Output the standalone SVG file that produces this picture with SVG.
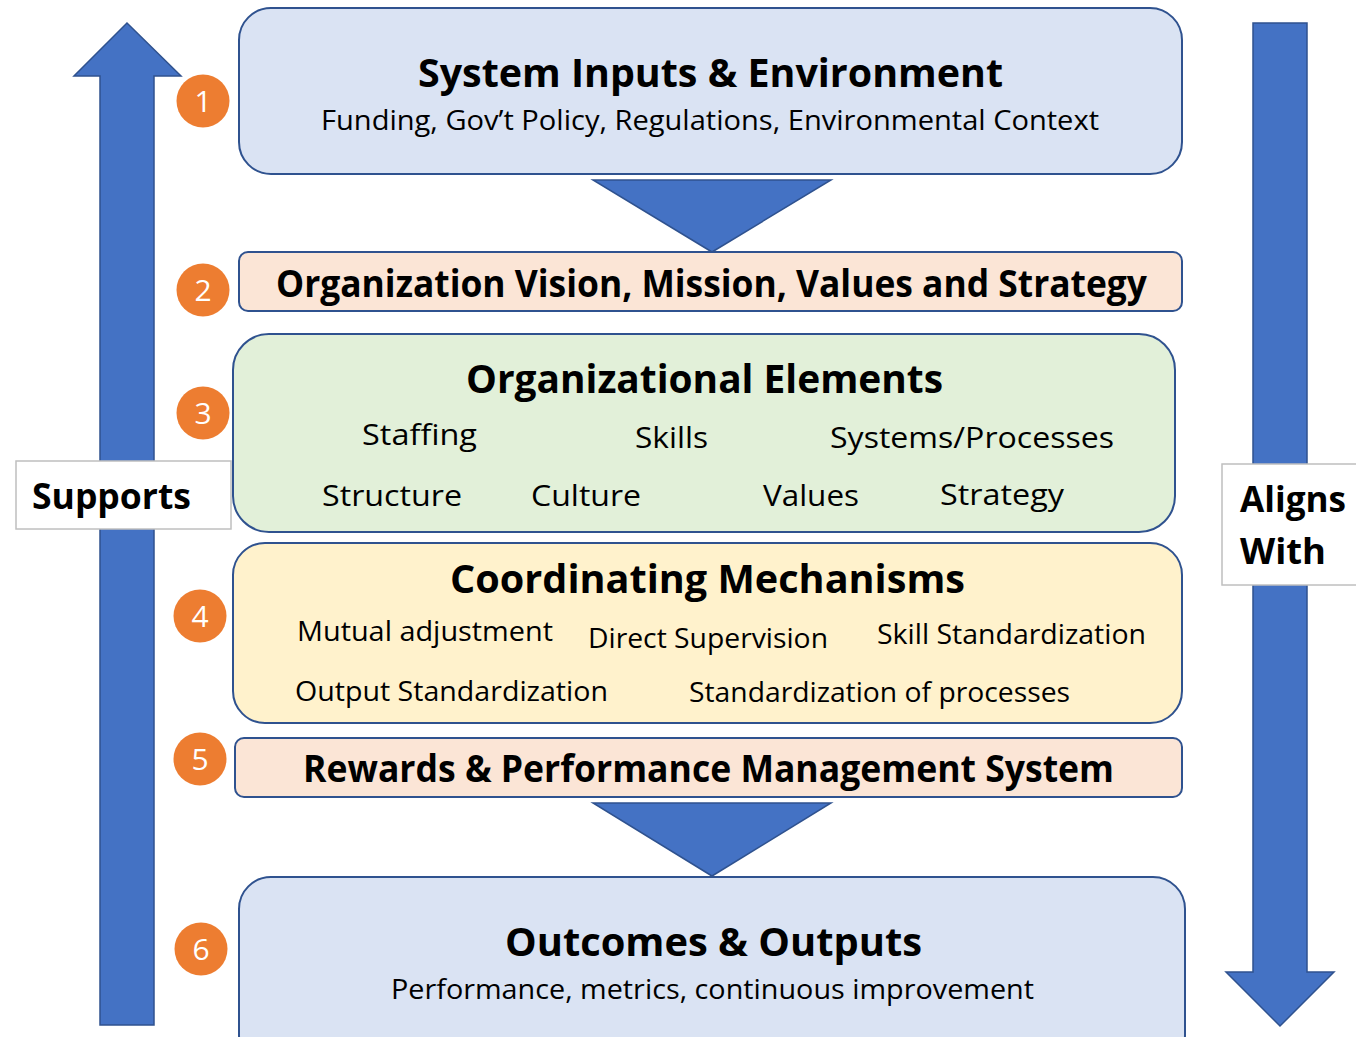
<svg xmlns="http://www.w3.org/2000/svg" width="1356" height="1037" viewBox="0 0 1356 1037">
  <style>
    .arrow { fill: #4472C4; stroke: #2F528F; stroke-width: 1.5; }
    .box { stroke: #2F528F; stroke-width: 2; }
    .blue { fill: #DAE3F3; }
    .peach { fill: #FBE5D6; }
    .green { fill: #E2F0D9; }
    .yellow { fill: #FFF2CC; }
    .label { fill: #FFFFFF; stroke: #BFBFBF; stroke-width: 1.5; }
    .badge { fill: #ED7D31; }
    .num { font-family: "Open Sans", "Noto Sans", sans-serif; font-size: 30px; fill: #FFFFFF; text-anchor: middle; }
    .title { font-family: "Open Sans", "Noto Sans", sans-serif; font-weight: bold; fill: #000000; }
    .body { font-family: "Open Sans", "Noto Sans", sans-serif; fill: #000000; }
  </style>

  <!-- side arrows and flow triangles -->
  <g id="connectors">
    <polygon class="arrow" points="100,1025 100,76 74,76 127,23 181,76 154,76 154,1025"/>
    <polygon class="arrow" points="1253,23 1307,23 1307,972 1334,972 1280,1026 1226,972 1253,972"/>
    <polygon class="arrow" points="593,180 831,180 712,252"/>
    <polygon class="arrow" points="593,803 831,803 712,876"/>
  </g>

  <g id="label-supports">
    <rect class="label" x="16" y="461" width="215" height="68"/>
    <text class="title" x="32" y="509" font-size="36" textLength="159" lengthAdjust="spacingAndGlyphs">Supports</text>
  </g>

  <g id="label-aligns">
    <rect class="label" x="1222" y="464" width="140" height="121"/>
    <text class="title" x="1240" y="512" font-size="36" textLength="106" lengthAdjust="spacingAndGlyphs">Aligns</text>
    <text class="title" x="1240" y="564" font-size="36" textLength="86" lengthAdjust="spacingAndGlyphs">With</text>
  </g>

  <g id="node-inputs">
    <rect class="box blue" x="239" y="8" width="943" height="166" rx="32"/>
    <text class="title" x="418" y="87" font-size="40" textLength="585" lengthAdjust="spacingAndGlyphs">System Inputs &amp; Environment</text>
    <text class="body" x="321" y="130" font-size="27" textLength="778" lengthAdjust="spacingAndGlyphs">Funding, Gov’t Policy, Regulations, Environmental Context</text>
  </g>

  <g id="node-vision">
    <rect class="box peach" x="239" y="252" width="943" height="59" rx="9"/>
    <text class="title" x="276" y="297" font-size="38" textLength="871" lengthAdjust="spacingAndGlyphs">Organization Vision, Mission, Values and Strategy</text>
  </g>

  <g id="node-elements">
    <rect class="box green" x="233" y="334" width="942" height="198" rx="36"/>
    <text class="title" x="466" y="393" font-size="40" textLength="477" lengthAdjust="spacingAndGlyphs">Organizational Elements</text>
    <text class="body" x="362" y="445" font-size="30" textLength="115" lengthAdjust="spacingAndGlyphs">Staffing</text>
    <text class="body" x="635" y="448" font-size="30" textLength="73" lengthAdjust="spacingAndGlyphs">Skills</text>
    <text class="body" x="830" y="448" font-size="30" textLength="284" lengthAdjust="spacingAndGlyphs">Systems/Processes</text>
    <text class="body" x="322" y="506" font-size="30" textLength="140" lengthAdjust="spacingAndGlyphs">Structure</text>
    <text class="body" x="531" y="506" font-size="30" textLength="110" lengthAdjust="spacingAndGlyphs">Culture</text>
    <text class="body" x="763" y="506" font-size="30" textLength="96" lengthAdjust="spacingAndGlyphs">Values</text>
    <text class="body" x="940" y="505" font-size="30" textLength="124" lengthAdjust="spacingAndGlyphs">Strategy</text>
  </g>

  <g id="node-coordinating">
    <rect class="box yellow" x="233" y="543" width="949" height="180" rx="32"/>
    <text class="title" x="450" y="593" font-size="40" textLength="515" lengthAdjust="spacingAndGlyphs">Coordinating Mechanisms</text>
    <text class="body" x="297" y="641" font-size="28" textLength="256" lengthAdjust="spacingAndGlyphs">Mutual adjustment</text>
    <text class="body" x="588" y="648" font-size="28" textLength="240" lengthAdjust="spacingAndGlyphs">Direct Supervision</text>
    <text class="body" x="877" y="644" font-size="28" textLength="269" lengthAdjust="spacingAndGlyphs">Skill Standardization</text>
    <text class="body" x="295" y="701" font-size="28" textLength="313" lengthAdjust="spacingAndGlyphs">Output Standardization</text>
    <text class="body" x="689" y="702" font-size="28" textLength="381" lengthAdjust="spacingAndGlyphs">Standardization of processes</text>
  </g>

  <g id="node-rewards">
    <rect class="box peach" x="235" y="738" width="947" height="59" rx="9"/>
    <text class="title" x="303" y="782" font-size="38" textLength="811" lengthAdjust="spacingAndGlyphs">Rewards &amp; Performance Management System</text>
  </g>

  <g id="node-outcomes">
    <rect class="box blue" x="239" y="877" width="946" height="190" rx="32"/>
    <text class="title" x="505" y="956" font-size="40" textLength="417" lengthAdjust="spacingAndGlyphs">Outcomes &amp; Outputs</text>
    <text class="body" x="391" y="999" font-size="27" textLength="643" lengthAdjust="spacingAndGlyphs">Performance, metrics, continuous improvement</text>
  </g>

  <!-- numbered badges -->
  <g id="badge-1"><circle class="badge" cx="203" cy="101" r="26.5"/><text class="num" x="203" y="112">1</text></g>
  <g id="badge-2"><circle class="badge" cx="203" cy="290" r="26.5"/><text class="num" x="203" y="301">2</text></g>
  <g id="badge-3"><circle class="badge" cx="203" cy="413" r="26.5"/><text class="num" x="203" y="424">3</text></g>
  <g id="badge-4"><circle class="badge" cx="200" cy="616" r="26.5"/><text class="num" x="200" y="627">4</text></g>
  <g id="badge-5"><circle class="badge" cx="200" cy="759" r="26.5"/><text class="num" x="200" y="770">5</text></g>
  <g id="badge-6"><circle class="badge" cx="201" cy="949" r="26.5"/><text class="num" x="201" y="960">6</text></g>
</svg>
